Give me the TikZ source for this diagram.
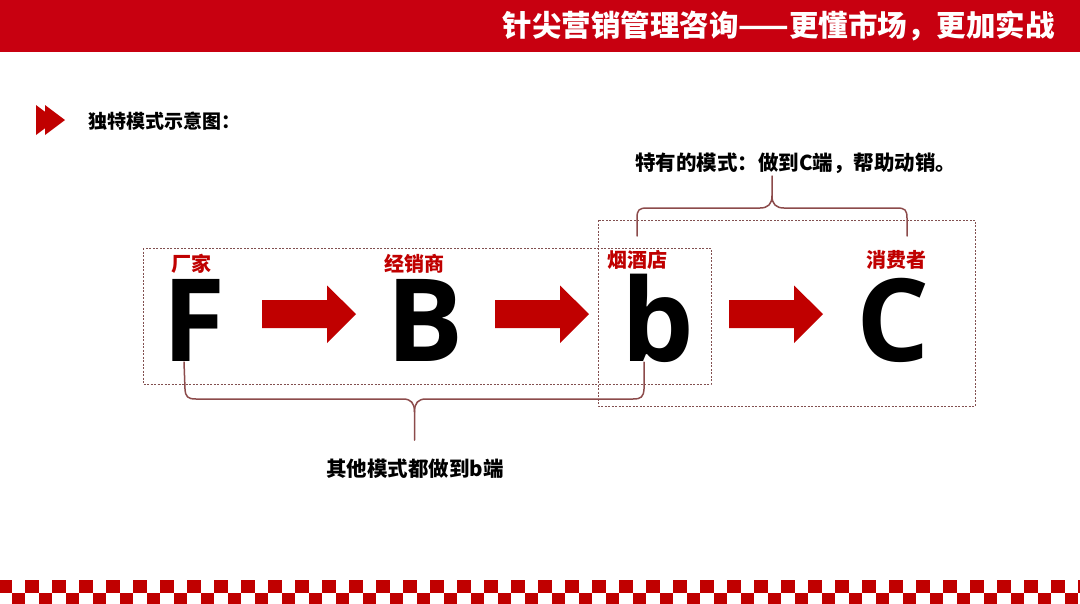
\documentclass[tikz,border=0pt]{standalone}
\usepackage{fontspec}
\setmainfont{Noto Sans CJK SC}
\newfontfamily\latf{Open Sans}
\definecolor{barred}{RGB}{200,0,16}
\definecolor{dred}{RGB}{192,0,0}
\definecolor{bracec}{RGB}{140,75,75}
\definecolor{dotc}{RGB}{130,80,80}
\begin{document}
\begin{tikzpicture}[x=1pt,y=-1pt,
  lab/.style={font=\fontsize{20}{20}\selectfont\bfseries, text=dred, inner sep=0},
  big/.style={font=\latf\fontsize{115}{115}\selectfont\bfseries, inner sep=0, anchor=base},
  txt/.style={font=\fontsize{20.5}{21}\selectfont\bfseries, inner sep=0},
  dotbox/.style={draw=dotc, dash pattern=on 2pt off 1.5pt, line width=0.9pt},
  bracel/.style={draw=bracec, line width=1.5pt, line join=round, line cap=round},
  blockarrow/.style={fill=dred}]
\useasboundingbox (0,0) rectangle (1080,603);
\fill[white] (0,0) rectangle (1080,603);
% header bar
\fill[barred] (0,0) rectangle (1080,52);
\node[anchor=east, text=white, font=\fontsize{29.5}{30}\selectfont\bfseries, inner sep=0] (title) at (1055,26) {针尖营销管理咨询——更懂市场，更加实战};
% icon
\fill[dred] (36,105) -- (56,120) -- (36,135) -- cycle;
\fill[dred] (45,105) -- (65,120) -- (45,135) -- cycle;
\node[anchor=west, font=\fontsize{19}{19}\selectfont\bfseries, inner sep=0] (head) at (88,121.5) {独特模式示意图：};
% dotted boxes
\draw[dotbox] (143,248) rectangle (711,384);
\draw[dotbox] (598,220) rectangle (975,406);
% block arrows
\foreach \x in {262,495,729}{
  \fill[blockarrow] (\x,300) -- (\x+65,300) -- (\x+65,285.5) -- (\x+94,314) -- (\x+65,343) -- (\x+65,328) -- (\x,328) -- cycle;
}
% big letters
\node[big] (F) at (194.5,361) {F};
\node[big] (B) at (425.5,361) {B};
\node[big] (b) at (658,361) {b};
\node[big] (C) at (893,361) {C};
% labels
\node[lab] (l1) at (191,264) {厂家};
\node[lab] (l2) at (414,264) {经销商};
\node[lab] (l3) at (637,260) {烟酒店};
\node[lab] (l4) at (896,260) {消费者};
% top brace
\coordinate (tt) at (772,176);
\draw[bracel] (637,236) -- (637,218) .. controls (637,210) and (639,208) .. (647,208) -- (760,208) .. controls (768,208) and (772,204) .. (772,196) -- (tt);
\draw[bracel] (772,196) .. controls (772,204) and (776,208) .. (784,208) -- (897,208) .. controls (905,208) and (907,210) .. (907,218) -- (907,236);
\node[txt, anchor=west] (toptext) at (635,163) {特有的模式：做到C端，帮助动销。};
% bottom brace
\coordinate (bt) at (414.5,440);
\draw[bracel] (184,362) -- (185,389) .. controls (185.5,397) and (188,399) .. (196,399) -- (403,399) .. controls (411,399) and (414.5,403) .. (414.5,412) -- (bt);
\draw[bracel] (414.5,412) .. controls (414.5,403) and (418,399) .. (426,399) -- (633,399) .. controls (641,399) and (643.5,397) .. (644,389) -- (644,362);
\node[txt] (bottext) at (415,469) {其他模式都做到b端};
% checker strip
\begin{scope}
\clip (0,0) rectangle (1080,603);
\foreach \k in {0,...,40}{
  \fill[dred] (-2+27*\k,579.5) rectangle ++(13.5,13.5);
  \fill[dred] (11.5+27*\k,593) rectangle ++(13.5,13.5);
}
\end{scope}
\end{tikzpicture}
\end{document}
